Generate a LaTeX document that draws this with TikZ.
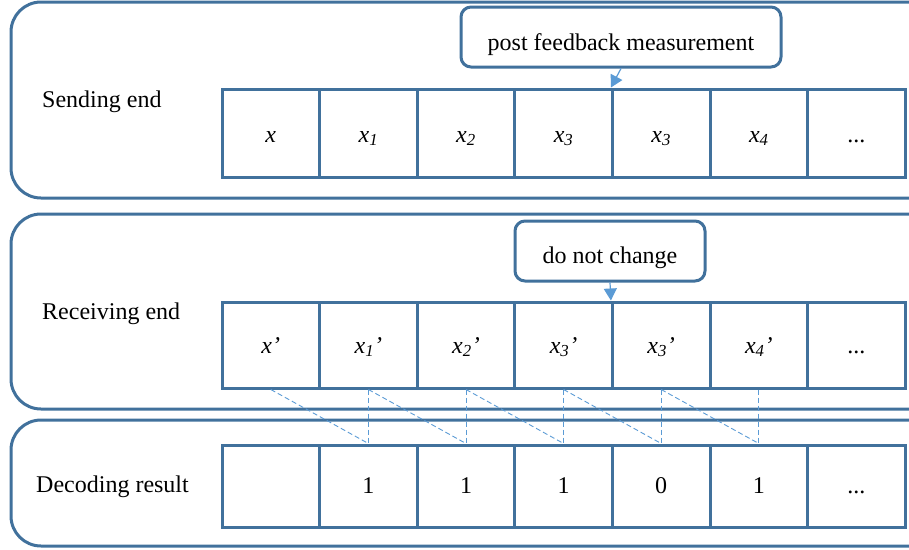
\documentclass[tikz,border=0pt]{standalone}
\usepackage{fontspec}
\setmainfont{Liberation Serif}
\usetikzlibrary{arrows.meta}
\definecolor{boxblue}{HTML}{41719C}
\definecolor{lightblue}{HTML}{5B9BD5}
\newcommand{\dn}[2]{\raisebox{-#1pt}[0pt][0pt]{#2}}
\tikzset{
  outerbox/.style={draw=boxblue,line width=3pt,rounded corners=30pt},
  cell/.style={draw=boxblue,line width=3pt,minimum width=97.6pt,inner sep=0pt,fill=white},
  callout/.style={draw=boxblue,line width=3pt,rounded corners=10pt,fill=white,inner sep=0pt},
  lbl/.style={font=\fontsize{24}{28}\selectfont,anchor=west,inner sep=0pt},
  txt/.style={font=\fontsize{24}{28}\selectfont},
  arr/.style={draw=lightblue,line width=1.2pt,-{Triangle[length=12pt,width=13pt]}},
  dsh/.style={draw=lightblue,line width=0.9pt,dash pattern=on 5pt off 3pt},
}
\begin{document}
\begin{tikzpicture}[x=1pt,y=-1pt]
\useasboundingbox (0,0) rectangle (909,549);
\clip (0,0) rectangle (909,549);
% outer boxes
\draw[outerbox] (11,2) rectangle (940,198);
\draw[outerbox] (11,214) rectangle (940,409);
\draw[outerbox] (11,420) rectangle (940,546);
% labels
\node[lbl] (ls) at (42,102) {Sending end};
\node[lbl] (lr) at (42,314) {Receiving end};
\node[lbl] (ld) at (36,487) {Decoding result};
% top row
\foreach \i/\t in {0/{\itshape x},1/{\itshape x\textsubscript{1}},2/{\itshape x\textsubscript{2}},3/{\itshape x\textsubscript{3}},4/{\itshape x\textsubscript{3}},5/{\itshape x\textsubscript{4}},6/{...}}{
  \node[cell,txt,minimum height=88pt] (s\i) at ({270.8+97.6*\i},133) {\dn{9}{\t}};
}
% middle row
\foreach \i/\t in {0/{\itshape x’},1/{\itshape x\textsubscript{1}’},2/{\itshape x\textsubscript{2}’},3/{\itshape x\textsubscript{3}’},4/{\itshape x\textsubscript{3}’},5/{\itshape x\textsubscript{4}’},6/{...}}{
  \node[cell,txt,minimum height=86pt] (r\i) at ({270.8+97.6*\i},345) {\dn{8}{\t}};
}
% bottom row
\foreach \i/\t in {0/{},1/{1},2/{1},3/{1},4/{0},5/{1},6/{...}}{
  \node[cell,txt,minimum height=82pt] (d\i) at ({270.8+97.6*\i},486) {\dn{7}{\t}};
}
% dashed links
\foreach \i [evaluate=\i as \j using int(\i+1)] in {0,...,4}{
  \draw[dsh] (r\i.south) -- (d\j.north);
}
\foreach \i in {1,...,5}{
  \draw[dsh] (r\i.south) -- (d\i.north);
}
% callouts
\node[callout,txt,minimum width=320pt,minimum height=60pt] (c1) at (621,37) {\dn{13}{post feedback measurement}};
\node[callout,txt,minimum width=190pt,minimum height=60pt] (c2) at (610,251) {\dn{12}{do not change}};
\draw[arr] (c1.south) -- (s4.north west);
\draw[arr] (c2.south) -- (r4.north west);
\end{tikzpicture}
\end{document}
